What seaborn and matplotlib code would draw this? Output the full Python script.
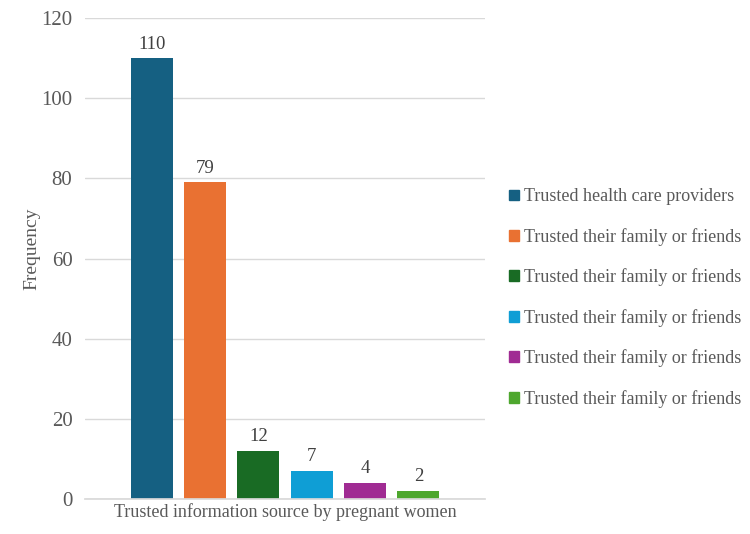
import matplotlib
matplotlib.use("Agg")
import matplotlib.pyplot as plt
import seaborn as sns
import pandas as pd

category = ["Trusted information source by pregnant women"]
source_keys = ["s1", "s2", "s3", "s4", "s5", "s6"]
source_labels = [
    "Trusted health care providers",
    "Trusted their family or friends",
    "Trusted their family or friends",
    "Trusted their family or friends",
    "Trusted their family or friends",
    "Trusted their family or friends",
]
frequencies = [110, 79, 12, 7, 4, 2]
colors = ["#156082", "#E97132", "#196B24", "#0F9ED5", "#A02B93", "#4EA72E"]
y_ticks = [0, 20, 40, 60, 80, 100, 120]

sns.set_theme(style="white")
plt.rcParams["font.family"] = ["Liberation Serif", "DejaVu Serif"]

df = pd.DataFrame({
    "category": category * len(source_keys),
    "source": source_keys,
    "freq": frequencies,
})

fig = plt.figure(figsize=(7.5, 5.34), dpi=100)
ax = fig.add_axes([85 / 750, 1 - 499 / 534, 400 / 750, (499 - 18) / 534])

sns.barplot(data=df, x="category", y="freq", hue="source", hue_order=source_keys,
            palette=colors, width=0.8, gap=0.21, ax=ax, legend=False,
            edgecolor="none", linewidth=0, saturation=1)

ax.set_ylim(0, 120)
ax.set_xlim(-0.5, 0.5)
ax.set_yticks(y_ticks)
ax.yaxis.grid(True, color="#d9d9d9", linewidth=1)
ax.set_axisbelow(True)
for s in ["top", "right", "left"]:
    ax.spines[s].set_visible(False)
ax.spines["bottom"].set_color("#d9d9d9")
ax.tick_params(axis="y", length=0, labelsize=15, colors="#595959", pad=9)
ax.tick_params(axis="x", length=0, labelsize=13, colors="#595959", pad=3)
ax.set_xlabel("")
ax.set_ylabel("Frequency", fontsize=14, color="#595959")
ax.yaxis.set_label_coords(-0.112, 0.52)

for cont in ax.containers:
    ax.bar_label(cont, fontsize=13.5, color="#404040", padding=4)

handles = [plt.Rectangle((0, 0), 1, 1, color=c) for c in colors]
fig.legend(handles, source_labels, loc="center left",
           bbox_to_anchor=(0.657, 0.442), frameon=False, fontsize=13,
           handlelength=0.55, handleheight=0.55, handletextpad=0.3,
           labelspacing=1.25, labelcolor="#595959")

fig.savefig("out.png", dpi=100)
